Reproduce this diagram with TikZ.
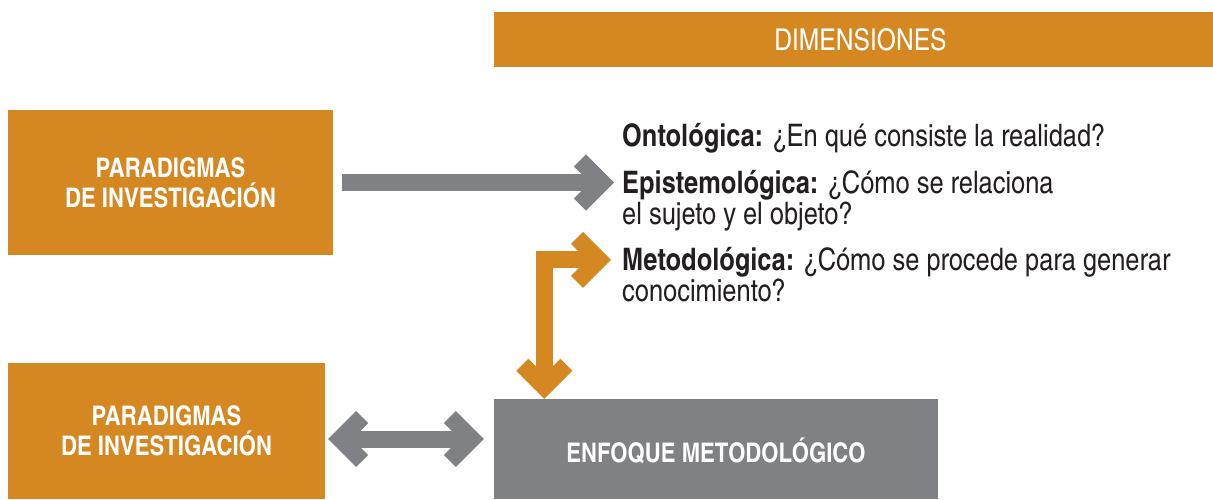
\documentclass[tikz,border=0pt]{standalone}
\usepackage{fontspec}
\setmainfont{texgyreheroscn}[Extension=.otf, UprightFont=*-regular, BoldFont=*-bold]
\usetikzlibrary{positioning,arrows.meta}
\definecolor{ocre}{HTML}{D58722}
\definecolor{gris}{HTML}{808184}
\definecolor{tinta}{HTML}{231F20}

\begin{document}
\begin{tikzpicture}[x=1pt, y=-1pt, line join=miter,
  >={Straight Barb[length=22pt, width=44pt]},
  caja/.style={fill=#1, draw=none, inner sep=0pt, text=white, align=center},
  rotulo/.style={font=\fontsize{27}{30}\selectfont\bfseries},
  item/.style={text=tinta, inner sep=0pt, anchor=base west, font=\fontsize{31}{31}\selectfont},
  flecha/.style={draw=#1, line width=17pt, line cap=butt}]
  \useasboundingbox (0,0) rectangle (1213,499);

  %--- boxes -----------------------------------------------------------------
  \node[caja=ocre, minimum width=719pt, minimum height=55pt,
        font=\fontsize{30}{32}\selectfont] (dim) at (853.5,39.5) {\hspace{14pt}DIMENSIONES};
  \node[caja=ocre, rotulo, minimum width=325pt, minimum height=145pt] (par1) at (170.5,182.5)
    {PARADIGMAS\\DE INVESTIGACIÓN};
  \node[caja=ocre, rotulo, minimum width=317pt, minimum height=136pt] (par2) at (166.5,431)
    {PARADIGMAS\\DE INVESTIGACIÓN};
  \node[caja=gris, rotulo, minimum width=444pt, minimum height=100pt, text height=27pt, text depth=0pt] (enfoque) at (716,449)
    {ENFOQUE METODOLÓGICO};

  %--- dimensions ------------------------------------------------------------
  \node[item] (onto) at (622,146) {\textbf{Ontológica:} ¿En qué consiste la realidad?};
  \node[item] (epis) at (622,193) {\textbf{Epistemológica:} ¿Cómo se relaciona};
  \node[item] (episb) at ([yshift=-31pt]epis.base west) {el sujeto y el objeto?};
  \node[item] (metod) at (622,270) {\textbf{Metodológica:} ¿Cómo se procede para generar};
  \node[item] (metodb) at ([yshift=-31pt]metod.base west) {conocimiento?};

  %--- arrows ----------------------------------------------------------------
  \draw[flecha=gris, ->, shorten >=17pt] ([xshift=9pt]par1.east) -- ([xshift=9pt]par1.east -| epis.west);
  \draw[flecha=ocre, <->] ([shift={(-11pt,2pt)}]metod.west) -| ([xshift=50.5pt]enfoque.north west);
  \draw[flecha=gris, <->] ([shift={(3pt,-8pt)}]par2.east) -- ([shift={(-10pt,-8pt)}]par2.east -| enfoque.west);
\end{tikzpicture}
\end{document}
